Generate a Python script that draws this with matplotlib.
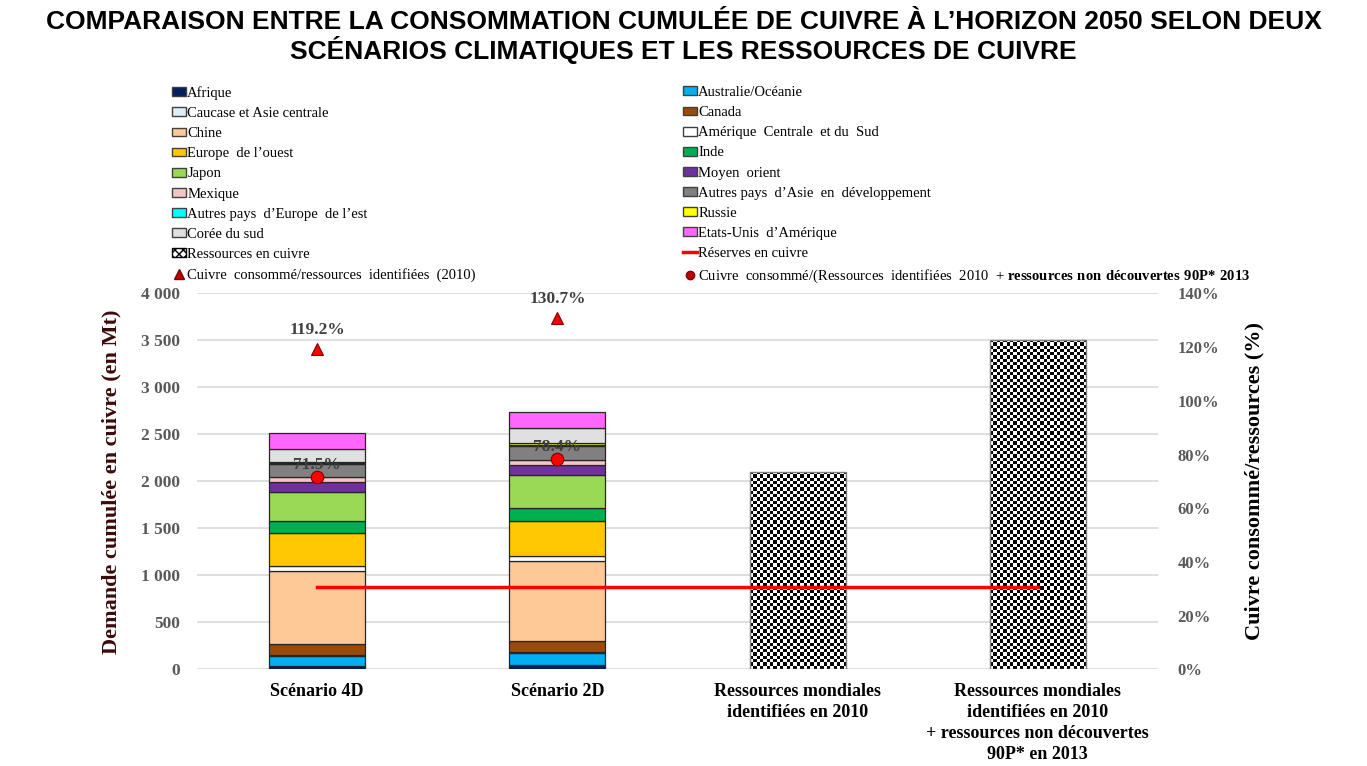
import numpy as np
import matplotlib.pyplot as plt
from matplotlib.patches import Patch
from matplotlib.lines import Line2D
from matplotlib.ticker import FuncFormatter, MultipleLocator

plt.rcParams['font.family'] = ['Liberation Serif', 'DejaVu Serif']
plt.rcParams['mathtext.fontset'] = 'custom'
plt.rcParams['mathtext.rm'] = 'Liberation Serif'
plt.rcParams['mathtext.bf'] = 'Liberation Serif:bold'

categories = ['Scénario 4D', 'Scénario 2D',
              'Ressources mondiales\nidentifiées en 2010',
              'Ressources mondiales\nidentifiées en 2010\n+ ressources non découvertes\n90P* en 2013']

regions = ['Afrique', 'Australie/Océanie', 'Caucase et Asie centrale', 'Canada', 'Chine',
           'Amérique  Centrale  et du  Sud', 'Europe  de l’ouest', 'Inde', 'Japon',
           'Moyen  orient', 'Mexique', 'Autres pays  d’Asie  en  développement',
           'Autres pays  d’Europe  de l’est', 'Russie', 'Corée du sud', 'Etats-Unis  d’Amérique']
colors = ['#002060', '#00B0F0', '#DAEEF3', '#9C4A08', '#FFC896', '#FFFFFF', '#FFC800', '#00B050',
          '#99D955', '#7030A0', '#F5C4C4', '#808080', '#00FFFF', '#FFFF00', '#E0E0E0', '#FF66FF']
values_4d = [35, 113, 10, 115, 778, 50, 347, 130, 308, 105, 55, 140, 10, 10, 135, 170]
values_2d = [50, 127, 10, 113, 849, 60, 371, 138, 347, 110, 53, 150, 8, 21, 163, 173]

resources = [2100, 3500]
reserves = [880, 880, 880, 880]
ratio_2010 = [1.192, 1.307]
ratio_2013 = [0.715, 0.784]

fig = plt.figure(figsize=(13.67, 7.66), dpi=100)
ax = fig.add_axes([0.1441, 0.126, 0.703, 0.4911])

width = 0.4
bottom = np.zeros(2)
for name, col, v4, v2 in zip(regions, colors, values_4d, values_2d):
    vals = np.array([v4, v2])
    ax.bar([0, 1], vals, width, bottom=bottom, color=col, edgecolor='#262626', lw=0.9, zorder=2)
    bottom += vals

ax.set_xlim(-0.5, 3.5)
ax.set_ylim(0, 4000)

# checkerboard bars for the resources
res_bars = ax.bar([2, 3], resources, width, fill=False, edgecolor='#808080', lw=1, zorder=3)
cell = 3.3
for bar in res_bars:
    x0 = bar.get_x()
    x1 = x0 + bar.get_width()
    (px0, py0), (px1, py1) = ax.transData.transform([(x0, 0), (x1, bar.get_height())])
    ncol = int(round((px1 - px0) / cell))
    nrow = int(round((py1 - py0) / cell))
    checker = np.indices((nrow, ncol)).sum(axis=0) % 2
    im = ax.imshow(checker, cmap='gray', extent=(x0, x1, 0, bar.get_height()), aspect='auto',
                   interpolation='nearest', zorder=2.5)
    im.set_clip_path(bar)

ax.plot(range(4), reserves, color='red', lw=2.5, zorder=4)

ax.yaxis.set_major_locator(MultipleLocator(500))
ax.yaxis.set_major_formatter(FuncFormatter(lambda v, p: f'{int(v):,}'.replace(',', ' ')))
ax.grid(axis='y', color='#D9D9D9', lw=1.2, zorder=0)
ax.set_axisbelow(True)
for s in ax.spines.values():
    s.set_visible(False)
ax.tick_params(length=0)
ax.tick_params(axis='y', pad=12, labelsize=12.5, labelcolor='#595959')
ax.set_yticks(np.arange(0, 4001, 500))
for t in ax.get_yticklabels():
    t.set_fontweight('bold')
ax.set_xticks(range(4))
ax.set_xticklabels(categories, fontsize=13, fontweight='bold', linespacing=1.3)
ax.tick_params(axis='x', pad=10)
ax.set_ylabel('Demande cumulée en cuivre (en Mt)', fontsize=16, fontweight='bold',
              color='#3C0A0A', labelpad=14)
ax.set_xlim(-0.5, 3.5)
ax.set_ylim(0, 4000)

ax2 = ax.twinx()
ax2.yaxis.set_major_formatter(FuncFormatter(lambda v, p: f'{v * 100:.0f}%'))
for s in ax2.spines.values():
    s.set_visible(False)
ax2.tick_params(length=0, pad=14, labelsize=12, labelcolor='#595959')
ax2.set_yticks(np.arange(0, 1.41, 0.2))
for t in ax2.get_yticklabels():
    t.set_fontweight('bold')
ax2.set_ylabel('Cuivre consommé/ressources (%)', fontsize=16, fontweight='bold', labelpad=18)

ax2.plot([0, 1], ratio_2010, ls='none', marker='^', ms=8, mfc='red', mec='#7F0000', mew=0.8)
ax2.plot([0, 1], ratio_2013, ls='none', marker='o', ms=9, mfc='red', mec='#7F0000', mew=0.8)
for xi, r in zip([0, 1], ratio_2010):
    ax2.annotate(f'{r * 100:.1f}%', (xi, r), xytext=(0, 8), textcoords='offset points',
                 ha='center', va='bottom', fontsize=12.5, fontweight='bold', color='#404040')
for xi, r in zip([0, 1], ratio_2013):
    ax2.annotate(f'{r * 100:.1f}%', (xi, r), xytext=(0, 3), textcoords='offset points',
                 ha='center', va='bottom', fontsize=12.5, fontweight='bold', color='#404040')
ax2.set_xlim(-0.5, 3.5)
ax2.set_ylim(0, 1.4)

fig.suptitle('COMPARAISON ENTRE LA CONSOMMATION CUMULÉE DE CUIVRE À L’HORIZON 2050 SELON DEUX\n'
             'SCÉNARIOS CLIMATIQUES ET LES RESSOURCES DE CUIVRE',
             x=0.5, y=0.987, fontsize=19, fontweight='bold', family='Liberation Sans',
             linespacing=1.1)

# legend in two columns, row-wise like the source
handles = [Patch(facecolor=c, edgecolor='#404040', lw=1) for c in colors]
res_handle = Patch(facecolor='white', edgecolor='black', hatch='xxxx', lw=1)
reserve_handle = Line2D([], [], color='red', lw=2.5)
tri_handle = Line2D([], [], ls='none', marker='^', ms=7, mfc='#C00000', mec='#7F0000')
dot_handle = Line2D([], [], ls='none', marker='o', ms=6, mfc='#C00000', mec='#7F0000')

left_h = handles[0::2] + [res_handle, tri_handle]
left_l = regions[0::2] + ['Ressources en cuivre', 'Cuivre  consommé/ressources  identifiées  (2010)']
right_h = handles[1::2] + [reserve_handle, dot_handle]
right_l = regions[1::2] + ['Réserves en cuivre',
                           'Cuivre  consommé/(Ressources  identifiées  2010  + '
                           r'$\mathbf{ressources\ non\ découvertes\ 90P{*}\ 2013}$']

common = dict(loc='upper left', frameon=False, fontsize=10.5, handlelength=0.95,
              handleheight=0.55, handletextpad=0.1, labelspacing=0.49, borderpad=0,
              borderaxespad=0)
leg1 = fig.legend(left_h, left_l, bbox_to_anchor=(172 / 1367, 1 - 86 / 766), **common)
leg2 = fig.legend(right_h, right_l, bbox_to_anchor=(683 / 1367, 1 - 86 / 766), **common)

fig.savefig('out.png', dpi=100)
